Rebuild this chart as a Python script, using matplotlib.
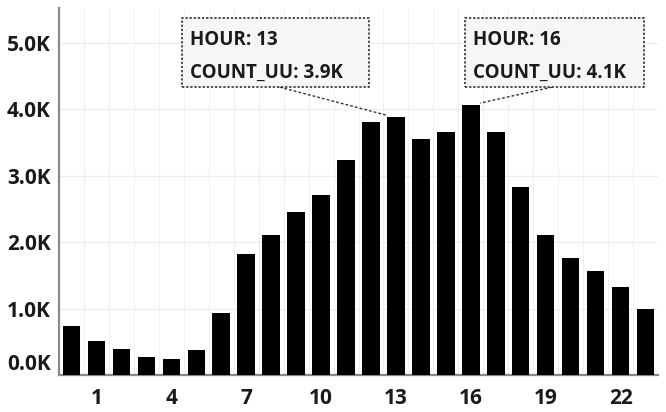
import matplotlib
matplotlib.use("Agg")
import matplotlib.pyplot as plt
from matplotlib.patches import Rectangle
from matplotlib.ticker import FuncFormatter
from matplotlib.transforms import ScaledTranslation

hours = list(range(24))
count_uu = [740, 510, 390, 270, 240, 370, 930, 1820, 2100, 2450, 2700, 3230,
            3800, 3880, 3550, 3650, 4060, 3650, 2830, 2100, 1760, 1560, 1320, 990]
y_ticks = [0, 1000, 2000, 3000, 4000, 5000]
x_ticks = [1, 4, 7, 10, 13, 16, 19, 22]
highlight_hours = [13, 16]

plt.rcParams['font.family'] = ['Open Sans', 'DejaVu Sans']

fig = plt.figure(figsize=(6.66, 4.12), dpi=100)
ax = fig.add_axes([59/666, 37/412, 599/666, 367/412])

ax.bar(hours, count_uu, width=0.7, color='black', zorder=3)
ax.set_xlim(-0.5, 23.5)
ax.set_ylim(0, 5520)

ax.set_yticks(y_ticks)
ax.yaxis.set_major_formatter(FuncFormatter(lambda v, p: f"{v/1000:.1f}K"))
ax.set_xticks(x_ticks)
ax.set_xticks([h + 0.5 for h in hours[:-1]], minor=True)
ax.tick_params(axis='both', which='both', length=0)
ax.tick_params(axis='y', labelsize=15, pad=6)
ax.tick_params(axis='x', labelsize=15, pad=9)
for lab in ax.get_xticklabels() + ax.get_yticklabels():
    lab.set_fontweight('bold')
    lab.set_color('#1a1a1a')

zero_lab = ax.yaxis.get_major_ticks()[0].label1
zero_lab.set_transform(zero_lab.get_transform() +
                       ScaledTranslation(0, 13/100, fig.dpi_scale_trans))

ax.grid(axis='y', which='major', color='#ececec', linewidth=0.8, zorder=0)
ax.grid(axis='x', which='minor', color='#f0f0f0', linewidth=0.8, zorder=0)
ax.grid(axis='x', which='major', visible=False)

for s in ['top', 'right']:
    ax.spines[s].set_visible(False)
ax.spines['left'].set_color('#8a8a8a')
ax.spines['left'].set_linewidth(1.6)
ax.spines['bottom'].set_color('#8a8a8a')
ax.spines['bottom'].set_linewidth(1.6)

# tooltips
boxes = {13: (4.42, 11.94, 8.34, 12.6), 16: (15.78, 22.94, 19.26, 16.38)}
for h in highlight_hours:
    x0, x1, lx, bx = boxes[h]
    v = count_uu[h]
    y0, y1 = 4330, 5370
    ax.add_patch(Rectangle((x0, y0), x1 - x0, y1 - y0, facecolor='#f6f6f6',
                           edgecolor='#222222', linestyle=(0, (1.5, 1.2)),
                           linewidth=1.1, zorder=5, clip_on=False))
    ax.plot([lx, bx], [y0, v + 30], color='#333333', linestyle=(0, (2, 1.5)),
            linewidth=1.0, zorder=4)
    ax.text(x0 + 0.32, 5040, f"HOUR: {h}", fontsize=13.5, fontweight='bold',
            color='#1a1a1a', va='center', ha='left', zorder=6)
    ax.text(x0 + 0.32, 4540, f"COUNT_UU: {v/1000:.1f}K", fontsize=13.5,
            fontweight='bold', color='#1a1a1a', va='center', ha='left', zorder=6)

fig.savefig("out.png", dpi=100)
